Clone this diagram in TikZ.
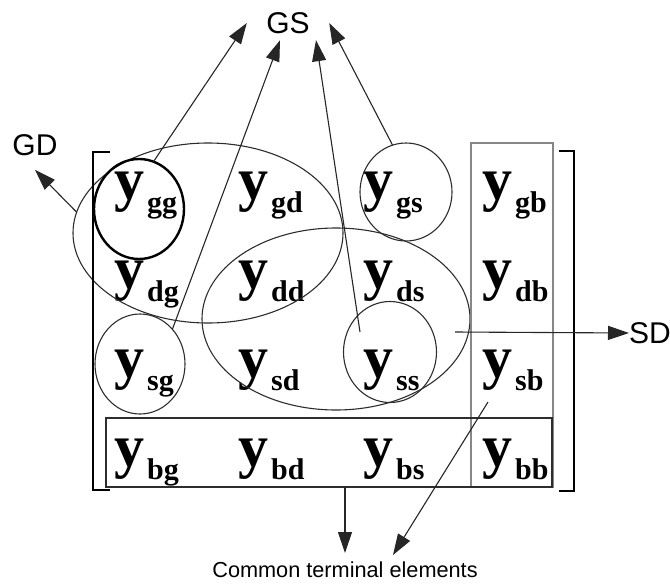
\documentclass[tikz,border=0pt]{standalone}
\usepackage{fontspec}
\setmainfont{Liberation Serif}
\setsansfont{Liberation Sans}
\usetikzlibrary{arrows.meta, positioning, calc, shapes.geometric}
\definecolor{ymInk}{RGB}{45,45,45}
\definecolor{ymGray}{RGB}{135,135,135}
\newcommand{\yent}[1]{{\fontsize{60}{60}\selectfont y}\kern3pt\raisebox{-13pt}{\fontsize{30}{30}\selectfont #1}}

\begin{document}
\begin{tikzpicture}[x=1pt,y=-1pt,
  entry/.style={anchor=base west,inner sep=0pt,font=\bfseries},
  ring/.style={draw=ymInk,ellipse,line width=1.1pt,inner sep=0pt,outer sep=0pt},
  frame/.style={draw,rectangle,inner sep=0pt,outer sep=0pt},
  lbl/.style={font=\sffamily\fontsize{30}{33}\selectfont,inner sep=0pt},
  arr/.style={-{Triangle[length=21pt,width=14pt]},line width=1.1pt,draw=black!85}]
\useasboundingbox (0,0) rectangle (670,584);

% Matrix entries
\foreach \r/\yb in {g/199.4,d/288.5,s/377.5,b/466}{
  \foreach \c/\xl in {g/114,d/238,s/363,b/482}{
    \node[entry] (y\r\c) at (\xl,\yb) {\yent{\r\c}};
  }
}

% Groupings
\node[ring,minimum width=270pt,minimum height=180pt] (cgd) at (208,233) {};
\node[ring,minimum width=268pt,minimum height=182pt] (csd) at (336,319) {};
\node[ring,line width=2.4pt,draw=black,minimum width=90pt,minimum height=100pt] (cgg) at (139,209) {};
\node[ring,minimum width=92pt,minimum height=98pt] (cgs) at (406,192) {};
\node[ring,minimum width=90pt,minimum height=100pt] (csg) at (140,364) {};
\node[ring,minimum width=93pt,minimum height=101pt] (css) at (390,352) {};
\node[frame,draw=ymGray,line width=1.8pt,minimum width=82pt,minimum height=344pt] (colb) at (512,315) {};
\node[frame,draw=ymInk,line width=1.4pt,minimum width=446pt,minimum height=69pt] (rowb) at (329,452.5) {};

% Brackets
\draw[line width=2.5pt] (110,152) -- (93,152) -- (93,490) -- (110,490);
\draw[line width=2.5pt] (559,151) -- (574,151) -- (574,491) -- (559,491);

% Labels
\node[lbl,minimum width=82pt,minimum height=34pt] (GS) at (288,23) {GS};
\node[lbl] (GD) at (35,145) {GD};
\node[lbl,anchor=west] (SD) at (629,333) {SD};
\node[font=\sffamily\fontsize{21.7}{24}\selectfont,inner sep=0pt,anchor=north] (cterm) at (345,562) {Common terminal elements};

\coordinate (ssin) at (360,332);
\coordinate (sdin) at (455,332);
\coordinate (sbin) at (488,402);

% Arrows
\draw[arr] (cgg.73) -- (GS.west);
\draw[arr] (csg.47) -- ($(GS.south)+(-8,0)$);
\draw[arr] (ssin) -- ($(GS.south)+(28,0)$);
\draw[arr] (cgs.106) -- (GS.east);
\draw[arr] (cgd.171) -- ([yshift=-14pt]GD.south);
\draw[arr] (sdin) -- (SD.west);
\draw[arr] (rowb.south -| cterm.north) -- ([yshift=9pt]cterm.north);
\draw[arr] (sbin) -- ([xshift=48pt,yshift=7pt]cterm.north);
\end{tikzpicture}
\end{document}
